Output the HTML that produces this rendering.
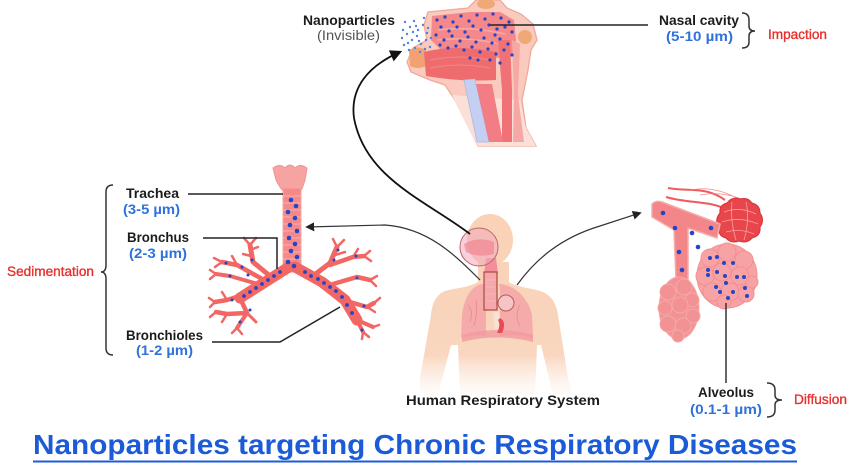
<!DOCTYPE html>
<html>
<head>
<meta charset="utf-8">
<style>
html,body{margin:0;padding:0;background:#fff;}
svg{display:block;}
text{font-family:"Liberation Sans", sans-serif;}
</style>
</head>
<body>
<svg width="858" height="471" viewBox="0 0 858 471" xmlns="http://www.w3.org/2000/svg">
<defs>
  <marker id="ah" viewBox="0 0 10 10" refX="8" refY="5" markerUnits="userSpaceOnUse" markerWidth="12" markerHeight="12" orient="auto">
    <path d="M0,0 L10,5 L0,10 z" fill="#111"/>
  </marker>
  <marker id="ah2" viewBox="0 0 10 10" refX="8" refY="5" markerUnits="userSpaceOnUse" markerWidth="9" markerHeight="9" orient="auto">
    <path d="M0,0 L10,5 L0,10 z" fill="#222"/>
  </marker>
  <linearGradient id="bodyg" x1="0" y1="0" x2="0" y2="1">
    <stop offset="0" stop-color="#f9d2b8"/>
    <stop offset="0.7" stop-color="#f9d6bf"/>
    <stop offset="1" stop-color="#fdeee4" stop-opacity="0.2"/>
  </linearGradient>
  <linearGradient id="neckg" x1="0" y1="0" x2="0" y2="1">
    <stop offset="0" stop-color="#fad8cc"/>
    <stop offset="1" stop-color="#fff" stop-opacity="0"/>
  </linearGradient>
</defs>
<rect width="858" height="471" fill="#fff"/>

<!-- ============ NASAL HEAD (top) ============ -->
<g>
  <path d="M428,12 L468,8 L476,0 L500,0 L507,8 L521,14 L533,24 L537,40 L531,50 L528,70 L522,100 L526,128 L536,146 L478,146 L470,130 L455,100 L445,85 L430,80 L411,72 L407,62 L413,48 L427,40 L424,25 Z" fill="#f9cabd" stroke="#f2a898" stroke-width="1.3"/>
  <path d="M452,95 L470,132 L478,146 L536,146 L526,128 L520,100 Z" fill="#fbe0d8"/>
  <ellipse cx="486" cy="4" rx="9" ry="5" fill="#f1a877"/>
  <ellipse cx="525" cy="37" rx="7" ry="7" fill="#f1a877"/>
  <!-- nasal cavity -->
  <path d="M432,16 L470,12 L500,12 L514,20 L516,40 L512,56 L496,58 L470,52 L440,49 L431,40 Z" fill="#f4888a"/>
  <path d="M438,30 Q470,26 505,34 M438,40 Q470,36 508,46" stroke="#f7aaa8" stroke-width="1.5" fill="none"/>
  <!-- lip -->
  <path d="M409,50 Q418,45 426,50 L426,66 Q418,70 410,66 Z" fill="#f2a272"/>
  <!-- tongue / oral -->
  <path d="M424,52 Q455,44 496,52 L496,80 Q460,82 426,76 Z" fill="#ee6c6e"/>
  <path d="M430,60 Q460,54 490,60 M430,68 Q460,62 490,68" stroke="#f08a8a" stroke-width="1" fill="none"/>
  <!-- pharynx wall -->
  <path d="M498,40 L510,40 L512,90 L512,142 L502,142 L502,90 Z" fill="#f07276"/>
  <path d="M512,40 L520,44 L518,95 L524,142 L513,142 L514,90 Z" fill="#f6a8a6"/>
  <!-- trachea (blue) -->
  <path d="M464,80 L475,79 L489,142 L477,142 Z" fill="#c4cff2" stroke="#a9b8ea" stroke-width="0.8"/>
  <!-- esophagus -->
  <path d="M476,84 L492,84 L503,142 L489,142 Z" fill="#f27d84"/>
  <!-- spray dots -->
  <g fill="#4f82e2">
    <circle cx="405" cy="22" r="1.2"/><circle cx="410" cy="27" r="1.2"/><circle cx="414" cy="21" r="1.2"/>
    <circle cx="418" cy="30" r="1.2"/><circle cx="423" cy="25" r="1.2"/><circle cx="427" cy="33" r="1.2"/>
    <circle cx="407" cy="34" r="1.2"/><circle cx="412" cy="40" r="1.2"/><circle cx="417" cy="36" r="1.2"/>
    <circle cx="421" cy="44" r="1.2"/><circle cx="426" cy="40" r="1.2"/><circle cx="430" cy="47" r="1.2"/>
    <circle cx="404" cy="45" r="1.2"/><circle cx="409" cy="50" r="1.2"/><circle cx="415" cy="48" r="1.2"/>
    <circle cx="420" cy="52" r="1.2"/><circle cx="403" cy="30" r="1.2"/><circle cx="408" cy="43" r="1.2"/>
    <circle cx="424" cy="18" r="1.2"/><circle cx="428" cy="28" r="1.2"/><circle cx="413" cy="32" r="1.2"/>
    <circle cx="419" cy="41" r="1.2"/><circle cx="425" cy="49" r="1.2"/><circle cx="431" cy="38" r="1.2"/>
    <circle cx="402" cy="38" r="1.2"/><circle cx="416" cy="26" r="1.2"/>
  </g>
  <g fill="#2445c8">
    <circle cx="437" cy="20" r="1.6"/><circle cx="445" cy="17" r="1.6"/><circle cx="453" cy="22" r="1.6"/><circle cx="461" cy="16" r="1.6"/><circle cx="469" cy="21" r="1.6"/><circle cx="477" cy="15" r="1.6"/><circle cx="485" cy="19" r="1.6"/><circle cx="493" cy="14" r="1.6"/><circle cx="501" cy="18" r="1.6"/><circle cx="509" cy="22" r="1.6"/>
    <circle cx="441" cy="27" r="1.6"/><circle cx="449" cy="31" r="1.6"/><circle cx="457" cy="27" r="1.6"/><circle cx="465" cy="32" r="1.6"/><circle cx="473" cy="26" r="1.6"/><circle cx="481" cy="30" r="1.6"/><circle cx="489" cy="25" r="1.6"/><circle cx="497" cy="29" r="1.6"/><circle cx="505" cy="27" r="1.6"/><circle cx="512" cy="32" r="1.6"/>
    <circle cx="436" cy="35" r="1.6"/><circle cx="444" cy="40" r="1.6"/><circle cx="452" cy="36" r="1.6"/><circle cx="460" cy="41" r="1.6"/><circle cx="468" cy="37" r="1.6"/><circle cx="476" cy="42" r="1.6"/><circle cx="484" cy="38" r="1.6"/><circle cx="492" cy="43" r="1.6"/><circle cx="500" cy="39" r="1.6"/><circle cx="508" cy="44" r="1.6"/>
    <circle cx="440" cy="45" r="1.6"/><circle cx="448" cy="48" r="1.6"/><circle cx="456" cy="46" r="1.6"/><circle cx="464" cy="50" r="1.6"/><circle cx="472" cy="47" r="1.6"/><circle cx="480" cy="52" r="1.6"/><circle cx="488" cy="49" r="1.6"/><circle cx="496" cy="54" r="1.6"/><circle cx="504" cy="50" r="1.6"/><circle cx="512" cy="55" r="1.6"/>
    <circle cx="470" cy="58" r="1.6"/><circle cx="478" cy="60" r="1.6"/><circle cx="490" cy="60" r="1.6"/><circle cx="500" cy="63" r="1.6"/><circle cx="495" cy="35" r="1.6"/>
  </g>
</g>
<!-- nasal connector line -->
<line x1="490" y1="25" x2="648" y2="25" stroke="#222" stroke-width="1.5"/>

<!-- ============ BRONCHIAL TREE (left) ============ -->
<g stroke-linecap="round" stroke-linejoin="round" fill="none">
  <!-- larynx -->
  <path d="M273,168 Q280,163 285,168 Q290,162 295,168 Q300,163 307,168 L305,180 Q302,190 300,192 L284,192 Q280,188 276,180 Z" fill="#f6a4a2" stroke="#f39290" stroke-width="1"/>
  <!-- trachea -->
  <rect x="283" y="188" width="18" height="84" fill="#f5898a" stroke="#f7a5a3" stroke-width="1"/>
  <g stroke="#f8b0ae" stroke-width="1">
    <line x1="283" y1="196" x2="301" y2="196"/><line x1="283" y1="203" x2="301" y2="203"/><line x1="283" y1="210" x2="301" y2="210"/>
    <line x1="283" y1="217" x2="301" y2="217"/><line x1="283" y1="224" x2="301" y2="224"/><line x1="283" y1="231" x2="301" y2="231"/>
    <line x1="283" y1="238" x2="301" y2="238"/><line x1="283" y1="245" x2="301" y2="245"/><line x1="283" y1="252" x2="301" y2="252"/>
    <line x1="283" y1="259" x2="301" y2="259"/>
  </g>
  <g stroke="#f26664">
    <!-- main bronchi -->
    <path d="M289,267 L262,284 L240,298" stroke-width="11"/>
    <path d="M295,267 L322,282 L345,300 L357,320" stroke-width="11"/>
    <!-- left branches -->
    <path d="M270,276 L253,262 L250,245" stroke-width="5"/>
    <path d="M250,245 L244,238 M250,245 L256,238 M250,250 L258,247 M251,256 L243,254" stroke-width="2.5"/>
    <path d="M264,280 L237,265 L222,262" stroke-width="4.5"/>
    <path d="M222,262 L214,258 M222,262 L215,267 M237,265 L232,256" stroke-width="2.5"/>
    <path d="M258,284 L230,276 L216,274" stroke-width="4"/>
    <path d="M216,274 L210,270 M216,274 L210,279" stroke-width="2.5"/>
    <path d="M246,294 L227,300 L215,302" stroke-width="4.5"/>
    <path d="M215,302 L209,298 M215,302 L210,307 M227,300 L222,292" stroke-width="2.5"/>
    <path d="M240,298 L247,313 L227,314 L216,312" stroke-width="4.5"/>
    <path d="M247,313 L237,328" stroke-width="4"/>
    <path d="M237,328 L232,333 M237,328 L242,334 M227,314 L222,322 M216,312 L210,317" stroke-width="2.5"/>
    <path d="M247,313 L256,322" stroke-width="3"/>
    <!-- right branches -->
    <path d="M313,276 L330,263 L337,247" stroke-width="5"/>
    <path d="M337,247 L333,239 M337,247 L344,240 M335,255 L345,252" stroke-width="2.5"/>
    <path d="M330,265 L353,257 L364,256" stroke-width="4.5"/>
    <path d="M364,256 L370,251 M364,256 L371,261 M353,257 L358,249" stroke-width="2.5"/>
    <path d="M333,284 L357,277 L370,280" stroke-width="4.5"/>
    <path d="M370,280 L377,276 M370,280 L376,286" stroke-width="2.5"/>
    <path d="M343,300 L367,307 L374,303" stroke-width="4.5"/>
    <path d="M374,303 L380,298 M367,307 L375,312" stroke-width="2.5"/>
    <path d="M357,320 L373,327 M357,320 L363,332" stroke-width="4"/>
    <path d="M373,327 L379,325 M363,332 L362,339 M363,332 L369,337" stroke-width="2.5"/>
  </g>
  <g fill="#2445c8" stroke="none">
    <circle cx="291" cy="200" r="2.3"/><circle cx="296" cy="206" r="2.3"/><circle cx="288" cy="212" r="2.3"/><circle cx="295" cy="218" r="2.3"/>
    <circle cx="290" cy="225" r="2.3"/><circle cx="297" cy="231" r="2.3"/><circle cx="289" cy="238" r="2.3"/><circle cx="295" cy="244" r="2.3"/>
    <circle cx="291" cy="251" r="2.3"/><circle cx="297" cy="257" r="2.3"/><circle cx="288" cy="262" r="2.3"/><circle cx="294" cy="266" r="2.3"/>
    <circle cx="280" cy="272" r="1.9"/><circle cx="274" cy="276" r="1.9"/><circle cx="268" cy="280" r="1.9"/><circle cx="262" cy="284" r="1.9"/>
    <circle cx="256" cy="288" r="1.9"/><circle cx="250" cy="292" r="1.9"/><circle cx="244" cy="296" r="1.9"/><circle cx="248" cy="275" r="1.5"/>
    <circle cx="242" cy="267" r="1.5"/><circle cx="252" cy="260" r="1.5"/><circle cx="250" cy="310" r="1.5"/><circle cx="232" cy="300" r="1.5"/>
    <circle cx="226" cy="263" r="1.5"/><circle cx="230" cy="276" r="1.5"/><circle cx="240" cy="322" r="1.5"/>
    <circle cx="305" cy="272" r="1.9"/><circle cx="311" cy="276" r="1.9"/><circle cx="318" cy="279" r="1.9"/><circle cx="324" cy="283" r="1.9"/>
    <circle cx="330" cy="287" r="1.9"/><circle cx="336" cy="291" r="1.9"/><circle cx="342" cy="297" r="1.9"/><circle cx="347" cy="305" r="1.9"/>
    <circle cx="352" cy="313" r="1.9"/><circle cx="334" cy="260" r="1.5"/><circle cx="338" cy="250" r="1.5"/><circle cx="357" cy="278" r="1.5"/>
    <circle cx="364" cy="306" r="1.5"/><circle cx="356" cy="256" r="1.5"/><circle cx="362" cy="330" r="1.5"/>
  </g>
</g>

<!-- ============ HUMAN BODY (center) ============ -->
<g>
  <path d="M478,262 L478,282 C468,288 455,288 445,291 C435,295 432,305 431,315 L420,378 L420,395 L438,395 L451,345 L458,345 L460,395 L535,395 L537,345 L541,345 L553,395 L572,395 L568,378 L558,315 C556,302 550,294 540,291 C530,288 516,287 509,282 L509,262 Z" fill="url(#bodyg)"/>
  <ellipse cx="490" cy="240" rx="23" ry="26" fill="#f9d2b8"/>
  <!-- lungs -->
  <path d="M484,284 C472,284 464,298 462,315 L461,338 Q475,334 486,336 L486,290 Z" fill="#f4a3a6" opacity="0.85"/>
  <path d="M499,284 C512,284 528,296 532,315 L533,338 Q518,334 500,336 L500,290 Z" fill="#f4a3a6" opacity="0.85"/>
  <path d="M462,335 Q497,325 533,335 L533,342 Q497,333 462,342 Z" fill="#f29aa0" opacity="0.8"/>
  <path d="M468,305 Q474,312 470,322 M476,300 Q478,312 474,326 M520,305 Q514,316 520,326" stroke="#e88a8e" stroke-width="0.8" fill="none"/>
  <path d="M493,312 L499,312 L500,328 L495,330 Z" fill="#fbe0d4"/>
  <path d="M500,318 Q507,322 502,333 L497,333 Q501,325 498,320 Z" fill="#e84b55"/>
  <!-- neck passage -->
  <path d="M486,258 L496,258 L498,274 L484,274 Z" fill="#f48e98"/>
  <!-- lens circle over head -->
  <circle cx="479" cy="247" r="19" fill="#f3a7bb" fill-opacity="0.55" stroke="#b86a6a" stroke-width="1"/>
  <path d="M464,244 Q478,236 494,242 L494,254 Q478,258 466,252 Z" fill="#f07c8a" opacity="0.6"/>
  <!-- trachea rect -->
  <rect x="484" y="272" width="13" height="38" fill="#f6a7ab" stroke="#a84a3e" stroke-width="1.2"/>
  <g stroke="#f3c2c2" stroke-width="0.7"><line x1="486" y1="280" x2="495" y2="280"/><line x1="486" y1="287" x2="495" y2="287"/><line x1="486" y1="294" x2="495" y2="294"/><line x1="486" y1="301" x2="495" y2="301"/></g>
  <circle cx="506" cy="303" r="8" fill="#f7c4c6" stroke="#b85a5a" stroke-width="1"/>
</g>

<!-- ============ ALVEOLI (right) ============ -->
<g>
  <!-- vessels -->
  <path d="M668,188 C690,192 705,186 725,200" stroke="#ee5a5e" stroke-width="2" fill="none"/>
  <path d="M666,197 C690,204 708,200 728,210" stroke="#ee5a5e" stroke-width="2" fill="none"/>
  <path d="M690,190 Q715,185 740,200 M700,195 Q730,190 752,205" stroke="#f08a8a" stroke-width="0.8" fill="none"/>
  <!-- capillary ball -->
  <path d="M740,199 Q748,197 752,203 Q760,205 760,213 Q765,220 760,227 Q761,236 752,238 Q747,244 739,241 Q731,244 726,238 Q718,236 719,228 Q714,220 720,213 Q719,205 727,203 Q732,196 740,199 Z" fill="#e9464c" stroke="#d83038" stroke-width="1"/>
  <path d="M724,212 Q740,206 756,214 M722,222 Q740,216 758,224 M726,232 Q740,228 754,234 M732,202 Q730,220 736,240 M746,202 Q750,220 744,240" stroke="#f6a0a0" stroke-width="0.8" fill="none"/>
  <!-- bronchiole tubes -->
  <path d="M652,204 Q656,200 662,202 L720,224 L717,238 L688,228 L688,280 L676,280 L674,230 L652,217 Z" fill="#f28689" stroke="#f6aaa9" stroke-width="1.5" stroke-linejoin="round"/>
  <!-- lower grape cluster -->
  <g fill="#f39294" stroke="#f5a8a8" stroke-width="1">
    <ellipse cx="679" cy="308" rx="20" ry="31"/>
    <circle cx="668" cy="292" r="8"/><circle cx="684" cy="287" r="8"/><circle cx="692" cy="300" r="7"/>
    <circle cx="665" cy="308" r="7"/><circle cx="680" cy="305" r="8"/><circle cx="693" cy="316" r="7"/>
    <circle cx="668" cy="324" r="8"/><circle cx="683" cy="326" r="8"/><circle cx="678" cy="336" r="6"/>
  </g>
  <!-- alveolar sac -->
  <g fill="#f7a2a4" stroke="#f29093" stroke-width="1">
    <ellipse cx="727" cy="276" rx="30" ry="32"/>
    <circle cx="710" cy="258" r="9"/><circle cx="727" cy="252" r="9"/><circle cx="744" cy="260" r="9"/>
    <circle cx="705" cy="276" r="9"/><circle cx="722" cy="272" r="9"/><circle cx="740" cy="276" r="9"/><circle cx="752" cy="282" r="6"/>
    <circle cx="712" cy="292" r="9"/><circle cx="730" cy="292" r="9"/><circle cx="746" cy="294" r="8"/><circle cx="724" cy="302" r="7"/>
  </g>
  <g fill="#2445c8">
    <circle cx="663" cy="213" r="2.3"/><circle cx="675" cy="228" r="2.3"/><circle cx="692" cy="233" r="2.3"/><circle cx="711" cy="228" r="2.3"/>
    <circle cx="698" cy="247" r="2.3"/><circle cx="679" cy="252" r="2.3"/><circle cx="682" cy="270" r="2.3"/>
    <circle cx="710" cy="258" r="2"/><circle cx="717" cy="257" r="2"/><circle cx="724" cy="263" r="2"/><circle cx="733" cy="263" r="2"/>
    <circle cx="708" cy="270" r="2"/><circle cx="708" cy="275" r="2"/><circle cx="717" cy="272" r="2"/><circle cx="725" cy="276" r="2"/>
    <circle cx="737" cy="277" r="2"/><circle cx="744" cy="277" r="2"/><circle cx="726" cy="283" r="2"/><circle cx="716" cy="287" r="2"/>
    <circle cx="720" cy="292" r="2"/><circle cx="733" cy="292" r="2"/><circle cx="745" cy="288" r="2"/><circle cx="747" cy="296" r="2"/>
    <circle cx="728" cy="298" r="2"/>
  </g>
</g>

<!-- ============ CONNECTORS / ARROWS ============ -->
<path d="M470,234 C425,200 365,178 354,118 C350,88 368,66 400,52" stroke="#111" stroke-width="1.8" fill="none" marker-end="url(#ah)"/>
<path d="M480,280 C455,255 428,228 385,225 L307,227" stroke="#333" stroke-width="1.2" fill="none" marker-end="url(#ah2)"/>
<path d="M517,285 C535,260 560,238 600,226 L640,213" stroke="#333" stroke-width="1.2" fill="none" marker-end="url(#ah2)"/>

<line x1="188" y1="194" x2="283" y2="194" stroke="#222" stroke-width="1.5"/>
<polyline points="203,238 277,238 277,269" stroke="#222" stroke-width="1.5" fill="none"/>
<polyline points="212,342 280,342 340,307" stroke="#222" stroke-width="1.5" fill="none"/>
<line x1="726" y1="303" x2="726" y2="383" stroke="#333" stroke-width="1.5"/>

<!-- braces -->
<path d="M113,185 Q106,185 106,192 L106,265 Q106,272 101,272 Q106,272 106,279 L106,348 Q106,355 113,355" stroke="#333" stroke-width="1.5" fill="none"/>
<path d="M742,13 Q749,13 749,20 L749,26 Q749,31 755,31 Q749,31 749,36 L749,42 Q749,48 742,48" stroke="#333" stroke-width="1.5" fill="none"/>
<path d="M767,383 Q775,383 775,390 L775,395 Q775,400 782,400 Q775,400 775,405 L775,410 Q775,417 767,417" stroke="#333" stroke-width="1.5" fill="none"/>

<!-- ============ TEXT ============ -->
<g font-weight="bold" fill="#1c1c1c" font-size="14">
  <text x="303" y="25" textLength="92" lengthAdjust="spacingAndGlyphs">Nanoparticles</text>
  <text x="659" y="25" textLength="80" lengthAdjust="spacingAndGlyphs">Nasal cavity</text>
  <text x="126" y="198" textLength="53" lengthAdjust="spacingAndGlyphs">Trachea</text>
  <text x="127" y="242" textLength="62" lengthAdjust="spacingAndGlyphs">Bronchus</text>
  <text x="126" y="340" textLength="77" lengthAdjust="spacingAndGlyphs">Bronchioles</text>
  <text x="406" y="405" textLength="194" lengthAdjust="spacingAndGlyphs">Human Respiratory System</text>
  <text x="698" y="397" textLength="56" lengthAdjust="spacingAndGlyphs">Alveolus</text>
</g>
<text x="317" y="40" font-size="14" fill="#555" textLength="63" lengthAdjust="spacingAndGlyphs">(Invisible)</text>
<g font-weight="bold" fill="#2f72dc" font-size="14">
  <text x="666" y="41" textLength="67" lengthAdjust="spacingAndGlyphs">(5-10 µm)</text>
  <text x="123" y="214" textLength="57" lengthAdjust="spacingAndGlyphs">(3-5 µm)</text>
  <text x="129" y="258" textLength="58" lengthAdjust="spacingAndGlyphs">(2-3 µm)</text>
  <text x="136" y="355" textLength="57" lengthAdjust="spacingAndGlyphs">(1-2 µm)</text>
  <text x="690" y="414" textLength="72" lengthAdjust="spacingAndGlyphs">(0.1-1 µm)</text>
</g>
<g fill="#e8302c" stroke="#e8302c" stroke-width="0.35" font-size="13.5">
  <text x="768" y="39" textLength="59" lengthAdjust="spacingAndGlyphs">Impaction</text>
  <text x="7" y="276" textLength="87" lengthAdjust="spacingAndGlyphs">Sedimentation</text>
  <text x="794" y="404" textLength="53" lengthAdjust="spacingAndGlyphs">Diffusion</text>
</g>

<!-- title -->
<text x="33" y="454" font-size="28" font-weight="bold" fill="#1b5bd8" textLength="764" lengthAdjust="spacingAndGlyphs">Nanoparticles targeting Chronic Respiratory Diseases</text>
<line x1="33" y1="461.5" x2="797" y2="461.5" stroke="#1b5bd8" stroke-width="2"/>
</svg>
</body>
</html>
